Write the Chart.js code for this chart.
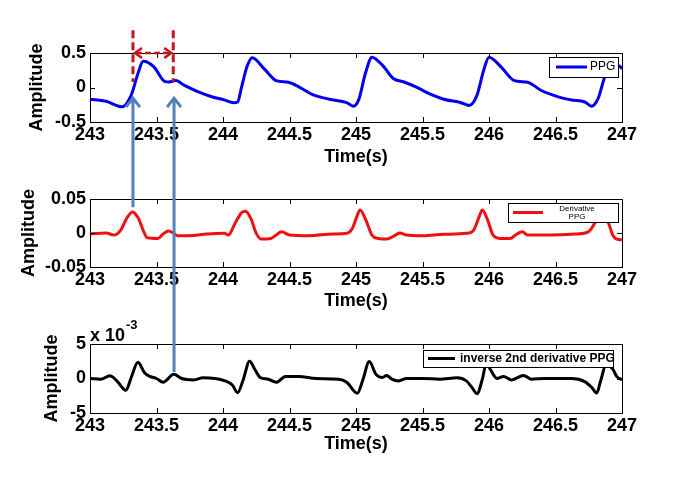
<!DOCTYPE html>
<html>
<head>
<meta charset="utf-8">
<title>PPG derivatives</title>
<script src="https://cdn.jsdelivr.net/npm/chart.js@4.4.1/dist/chart.umd.min.js"></script>
<style>
    html, body { margin: 0; padding: 0; background: #fff; }
    #wrap { position: relative; width: 689px; height: 489px; }
    #wrap canvas { position: absolute; left: 0; top: 0; }
</style>
</head>
<body>
<div id="wrap">
    <canvas id="ppgChart" width="689" height="489"></canvas>
    <canvas id="d1Chart" width="689" height="489"></canvas>
    <canvas id="d2Chart" width="689" height="489"></canvas>
</div>
<script>
// --- data ---
const xTicks = [243, 243.5, 244, 244.5, 245, 245.5, 246, 246.5, 247];
const xTickLabels = ['243', '243.5', '244', '244.5', '245', '245.5', '246', '246.5', '247'];

const ppgTicks = [-0.5, 0, 0.5];
const ppgTickLabels = ['-0.5', '0', '0.5'];
const d1Ticks = [-0.05, 0, 0.05];
const d1TickLabels = ['-0.05', '0', '0.05'];
const d2Ticks = [-5, 0, 5];              // x 10^-3
const d2TickLabels = ['-5', '0', '5'];

// PPG
const ppgTime = [243, 243.12, 243.24, 243.31, 243.36, 243.40, 243.48, 243.56, 243.595, 243.645, 243.71, 243.81,
    243.91, 244.01, 244.08, 244.11, 244.14, 244.18, 244.22, 244.31, 244.40, 244.49, 244.57, 244.67, 244.80,
    244.93, 244.98, 245.02, 245.07, 245.12, 245.20, 245.28, 245.36, 245.45, 245.55, 245.66, 245.79, 245.85,
    245.91, 245.96, 246.00, 246.09, 246.19, 246.29, 246.39, 246.52, 246.62, 246.72, 246.77, 246.82, 246.87,
    246.92, 246.98, 247];
const ppgAmp = [-0.17, -0.2, -0.28, -0.11, 0.20, 0.38, 0.30, 0.09, 0.08, 0.10, 0.03, -0.06,
    -0.13, -0.18, -0.22, -0.21, 0.01, 0.30, 0.43, 0.27, 0.10, 0.075, 0.01, -0.10, -0.17,
    -0.22, -0.27, -0.18, 0.20, 0.44, 0.32, 0.13, 0.08, 0.01, -0.09, -0.17, -0.22, -0.26,
    -0.11, 0.25, 0.44, 0.30, 0.10, 0.077, -0.04, -0.135, -0.18, -0.21, -0.27, -0.16, 0.15,
    0.30, 0.31, 0.27];

// derivative PPG
const d1Time = [243, 243.12, 243.18, 243.23, 243.28, 243.32, 243.36, 243.40, 243.43, 243.51, 243.55, 243.59,
    243.63, 243.66, 243.74, 243.88, 244.01, 244.04, 244.09, 244.14, 244.17, 244.21, 244.25, 244.29, 244.36,
    244.40, 244.44, 244.50, 244.64, 244.83, 244.93, 244.97, 245.01, 245.03, 245.07, 245.12, 245.17, 245.23,
    245.28, 245.33, 245.38, 245.50, 245.66, 245.83, 245.88, 245.93, 245.95, 245.99, 246.03, 246.08, 246.16,
    246.20, 246.25, 246.29, 246.45, 246.65, 246.75, 246.80, 246.85, 246.90, 246.93, 246.96, 247];
const d1Amp = [-0.0015, 0, -0.003, 0.004, 0.023, 0.031, 0.023, 0.004, -0.007, -0.008, -0.0015, 0.003,
    -0.0005, -0.004, -0.004, -0.0015, -0.0005, -0.003, 0.014, 0.030, 0.032, 0.021, -0.0005, -0.009, -0.008,
    -0.003, 0.002, -0.003, -0.004, -0.0015, -0.0005, 0.006, 0.026, 0.034, 0.021, -0.003, -0.008, -0.009,
    -0.005, 0, -0.003, -0.004, -0.002, -0.0005, 0.003, 0.026, 0.034, 0.019, -0.003, -0.008, -0.008,
    -0.003, 0.002, -0.003, -0.003, -0.0015, 0.002, 0.016, 0.031, 0.014, -0.003, -0.009, -0.01];

// inverse 2nd derivative PPG (x 10^-3)
const d2Time = [243, 243.08, 243.15, 243.20, 243.27, 243.31, 243.36, 243.41, 243.45, 243.50, 243.55, 243.63,
    243.69, 243.78, 243.85, 243.94, 244.01, 244.07, 244.11, 244.15, 244.20, 244.24, 244.28, 244.34, 244.40,
    244.47, 244.57, 244.70, 244.87, 244.93, 245.01, 245.05, 245.10, 245.15, 245.20, 245.23, 245.27, 245.32,
    245.38, 245.50, 245.63, 245.76, 245.83, 245.87, 245.91, 245.95, 245.98, 246.01, 246.06, 246.11, 246.17,
    246.26, 246.32, 246.42, 246.62, 246.72, 246.77, 246.81, 246.84, 246.88, 246.93, 246.96, 247];
const d2Amp = [0, -0.1, 0.4, -0.3, -1.7, 0.15, 2.35, 0.85, 0.3, 0, -0.55, 0.6,
    0, -0.2, 0.1, 0, -0.3, -0.95, -2.05, -0.3, 2.5, 1.3, 0.15, -0.1, -0.55,
    0.3, 0.3, 0, -0.1, -0.55, -2.15, -0.3, 2.45, 0.6, 0.15, 0.45, -0.1, -0.35,
    0, 0, -0.1, 0.1, -0.35, -1.25, -2.2, -0.1, 2.25, 1.3, 0, 0.3, -0.2,
    0.45, -0.1, 0, 0, -0.45, -1.25, -2.1, -0.3, 2.0, 1.4, 0.3, -0.2];

// annotation marks (time in s, heights in each panel's own units)
const markTimes = [243.323, 243.626];
const bracketTop = 0.83, bracketBottom = 0.08, bracketArrowAt = 0.5;
const arrowTip = -0.14;
const arrowTailD1 = 0.038, arrowTailD2 = 0.95;

const FONT = "'Liberation Sans', Arial, sans-serif";

// matlab style box with inward ticks
const frame = {
    id: 'frame',
    afterDatasetsDraw(chart) {
        const { ctx, chartArea: a, scales } = chart;
        ctx.save();
        ctx.strokeStyle = '#000';
        ctx.lineWidth = 1;
        ctx.strokeRect(a.left + 0.5, a.top + 0.5, a.right - a.left, a.bottom - a.top);
        ctx.beginPath();
        scales.x.ticks.forEach(t => {
            const px = Math.round(scales.x.getPixelForValue(t.value)) + 0.5;
            ctx.moveTo(px, a.bottom); ctx.lineTo(px, a.bottom - 5);
            ctx.moveTo(px, a.top); ctx.lineTo(px, a.top + 5);
        });
        scales.y.ticks.forEach(t => {
            const py = Math.round(scales.y.getPixelForValue(t.value)) + 0.5;
            ctx.moveTo(a.left, py); ctx.lineTo(a.left + 5, py);
            ctx.moveTo(a.right, py); ctx.lineTo(a.right - 5, py);
        });
        ctx.stroke();
        ctx.restore();
    }
};

// legend box inside the axes
const boxLegend = {
    id: 'boxLegend',
    afterDatasetsDraw(chart, args, opts) {
        if (!opts.lines) return;
        const ctx = chart.ctx, a = chart.chartArea;
        const w = opts.size[0], h = opts.size[1];
        const left = a.right - opts.inset[0] - w, top = a.top + opts.inset[1];
        const midY = top + h / 2;
        ctx.save();
        ctx.fillStyle = '#fff';
        ctx.fillRect(left, top, w, h);
        ctx.strokeStyle = '#000';
        ctx.lineWidth = 1;
        ctx.strokeRect(left + 0.5, top + 0.5, w, h);
        ctx.strokeStyle = chart.data.datasets[0].borderColor;
        ctx.lineWidth = 3;
        ctx.beginPath();
        ctx.moveTo(left + opts.sample[0], midY);
        ctx.lineTo(left + opts.sample[1], midY);
        ctx.stroke();
        ctx.fillStyle = '#000';
        ctx.font = opts.font;
        ctx.textAlign = opts.align;
        ctx.textBaseline = 'middle';
        const n = opts.lines.length;
        opts.lines.forEach((s, i) => {
            ctx.fillText(s, left + opts.textX, midY + (i - (n - 1) / 2) * (opts.lineGap || 0));
        });
        ctx.restore();
    }
};

function makeChart(id, times, amps, color, yTicks, yLabels, plotTop, plotBottom, pads, legend, extra) {
    return new Chart(document.getElementById(id), {
        type: 'line',
        data: {
            datasets: [{
                data: times.map((t, i) => ({ x: t, y: amps[i] })),
                borderColor: color,
                borderWidth: 3,
                pointRadius: 0,
                cubicInterpolationMode: 'monotone',
                fill: false
            }]
        },
        options: {
            responsive: false,
            animation: false,
            events: [],
            layout: { padding: { left: 0, right: 689 - 622, top: plotTop, bottom: 489 - plotBottom - 50 } },
            plugins: {
                legend: { display: false },
                tooltip: { enabled: false },
                boxLegend: legend,
                exponent: extra || {}
            },
            scales: {
                x: {
                    type: 'linear',
                    min: 243, max: 247,
                    afterBuildTicks: s => { s.ticks = xTicks.map(v => ({ value: v })); },
                    afterFit: s => { s.height = 50; },
                    grid: { display: false, drawTicks: false },
                    border: { display: false },
                    ticks: {
                        autoSkip: false, maxRotation: 0, padding: 2, color: '#000',
                        font: { family: FONT, size: 18, weight: 'bold' },
                        callback: (v, i) => xTickLabels[i]
                    },
                    title: {
                        display: true, text: 'Time(s)', color: '#000',
                        font: { family: FONT, size: 18, weight: 'bold' },
                        padding: { top: 0, bottom: pads.x }
                    }
                },
                y: {
                    type: 'linear',
                    min: yTicks[0], max: yTicks[yTicks.length - 1],
                    afterBuildTicks: s => { s.ticks = yTicks.map(v => ({ value: v })); },
                    afterFit: s => { s.width = 90; },
                    grid: { display: false, drawTicks: false },
                    border: { display: false },
                    ticks: {
                        padding: 4, color: '#000',
                        font: { family: FONT, size: 18, weight: 'bold' },
                        callback: (v, i) => yLabels[i]
                    },
                    title: {
                        display: true, text: 'Amplitude', color: '#000',
                        font: { family: FONT, size: 18, weight: 'bold' },
                        padding: { top: pads.y, bottom: 0 }
                    }
                }
            }
        },
        plugins: extra ? [frame, boxLegend, exponentLabel, annotate] : [frame, boxLegend]
    });
}

// "x 10^-3" above the last axes
const exponentLabel = {
    id: 'exponent',
    afterDraw(chart) {
        const { ctx, chartArea: a } = chart;
        ctx.save();
        ctx.fillStyle = '#000';
        ctx.textBaseline = 'alphabetic';
        ctx.textAlign = 'left';
        ctx.font = `bold 18px ${FONT}`;
        const base = 'x 10';
        ctx.fillText(base, a.left, a.top - 3);
        const w = ctx.measureText(base).width;
        ctx.font = `bold 13px ${FONT}`;
        ctx.fillText('-3', a.left + w + 1, a.top - 15);
        ctx.restore();
    }
};

// arrows and the dashed interval marker, spanning all three panels
const annotate = {
    id: 'annotate',
    afterDraw(chart) {
        const ctx = chart.ctx;
        const x = chart.scales.x;
        const yTop = ppgChart.scales.y, yMid = d1Chart.scales.y, yBot = chart.scales.y;
        const x0 = x.getPixelForValue(markTimes[0]);
        const x1 = x.getPixelForValue(markTimes[1]);
        ctx.save();

        // red dashed verticals
        ctx.strokeStyle = '#c3161c';
        ctx.lineWidth = 3;
        ctx.setLineDash([8, 4]);
        [x0, x1].forEach(px => {
            ctx.beginPath();
            ctx.moveTo(px, yTop.getPixelForValue(bracketTop));
            ctx.lineTo(px, yTop.getPixelForValue(bracketBottom));
            ctx.stroke();
        });

        // double headed arrow between them
        const ay = yTop.getPixelForValue(bracketArrowAt);
        ctx.lineWidth = 2.5;
        ctx.setLineDash([6, 3]);
        ctx.beginPath();
        ctx.moveTo(x0 + 3, ay);
        ctx.lineTo(x1 - 3, ay);
        ctx.stroke();
        ctx.setLineDash([]);
        ctx.beginPath();
        ctx.moveTo(x0 + 9, ay - 5); ctx.lineTo(x0 + 2, ay); ctx.lineTo(x0 + 9, ay + 5);
        ctx.moveTo(x1 - 9, ay - 5); ctx.lineTo(x1 - 2, ay); ctx.lineTo(x1 - 9, ay + 5);
        ctx.stroke();

        // blue arrows pointing up to the PPG curve
        ctx.strokeStyle = '#5581b6';
        ctx.lineWidth = 3;
        const tipY = yTop.getPixelForValue(arrowTip);
        const tails = [yMid.getPixelForValue(arrowTailD1), yBot.getPixelForValue(arrowTailD2)];
        [x0, x.getPixelForValue(markTimes[1] + 0.006)].forEach((px, i) => {
            ctx.beginPath();
            ctx.moveTo(px, tails[i]);
            ctx.lineTo(px, tipY + 1);
            ctx.moveTo(px - 7, tipY + 10);
            ctx.lineTo(px, tipY + 1);
            ctx.lineTo(px + 7, tipY + 10);
            ctx.stroke();
        });
        ctx.restore();
    }
};

const ppgChart = makeChart('ppgChart', ppgTime, ppgAmp, '#0000ee', ppgTicks, ppgTickLabels, 53, 122,
    { x: 4, y: 26 },
    { inset: [4, 4], size: [69, 20], sample: [7, 38], textX: 41, align: 'left', font: `12px ${FONT}` });

const d1Chart = makeChart('d1Chart', d1Time, d1Amp, '#ee1111', d1Ticks, d1TickLabels, 199, 267,
    { x: 5, y: 18 },
    { inset: [4, 4], size: [110, 19], sample: [5, 35], textX: 69, align: 'center', font: `8px ${FONT}`, lineGap: 8,
      lines: ['Derivative', 'PPG'] });
ppgChart.options.plugins.boxLegend.lines = ['PPG'];
ppgChart.update();

const d2Chart = makeChart('d2Chart', d2Time, d2Amp, '#000000', d2Ticks, d2TickLabels, 344, 413,
    { x: 8, y: 41 },
    { inset: [9, 6], size: [190, 17], sample: [5, 32], textX: 37, align: 'left', font: `bold 12px ${FONT}`,
      lines: ['inverse 2nd derivative PPG'] },
    true);
</script>
</body>
</html>
